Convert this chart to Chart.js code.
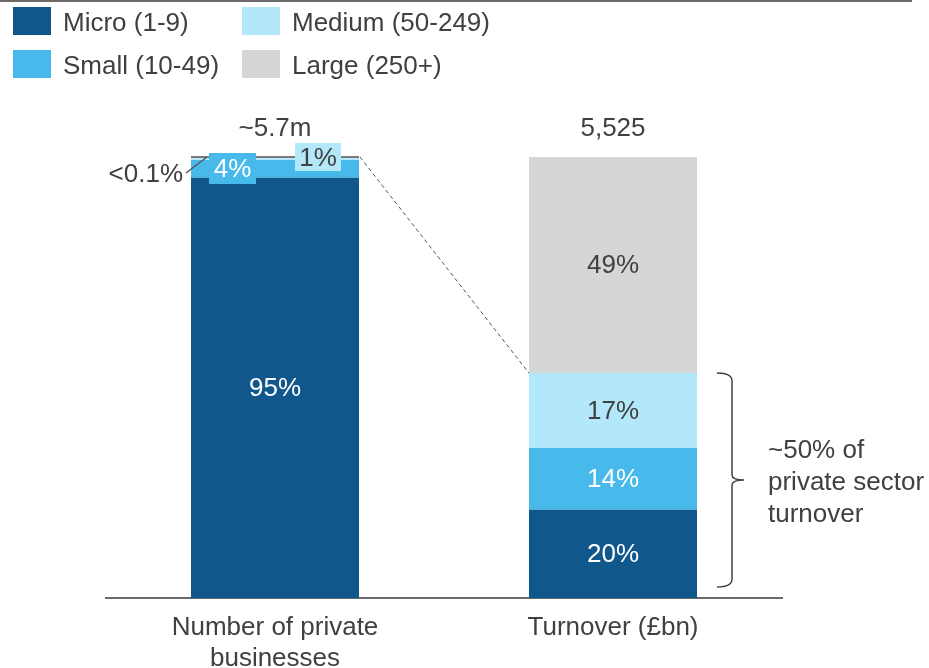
<!DOCTYPE html>
<html lang="en">
<head>
<meta charset="UTF-8">
<title>Private businesses and turnover by size</title>
<style>
  body { margin: 0; background: #fff; }
  canvas { display: block; }
</style>
</head>
<body>
<canvas id="chart" width="929" height="668"></canvas>
<script src="https://cdn.jsdelivr.net/npm/chart.js"></script>
<script>
// data (shares in %)
const categories = [['Number of private', 'businesses'], 'Turnover (£bn)'];
const seriesNames = ['Micro (1-9)', 'Small (10-49)', 'Medium (50-249)', 'Large (250+)'];
const micro = [95.3, 20];
const small = [4.0, 14];
const medium = [0.6, 17];
const large = [0.1, 49];
const microLabels = ['95%', '20%'];
const smallLabels = ['4%', '14%'];
const mediumLabels = ['1%', '17%'];
const largeLabels = ['<0.1%', '49%'];
const totals = ['~5.7m', '5,525'];
const bracketNote = ['~50% of', 'private sector', 'turnover'];

const colors = ['#10578B', '#47B9EA', '#B3E8FA', '#D5D6D8'];
const textColors = ['#ffffff', '#ffffff', '#404040', '#404040'];
const ink = '#404040';
const font = '26px "Liberation Sans", Arial, sans-serif';

const allValues = [micro, small, medium, large];
const allLabels = [microLabels, smallLabels, mediumLabels, largeLabels];

// labels, leader lines, bracket and legend
const annotate = {
  id: 'annotate',
  afterDatasetsDraw(chart) {
    const ctx = chart.ctx;
    const metas = allValues.map((v, i) => chart.getDatasetMeta(i));
    ctx.save();
    ctx.font = font;
    ctx.textAlign = 'center';
    ctx.textBaseline = 'middle';

    // labels inside the segments of the right bar and the big one on the left
    for (let d = 0; d < 4; d++) {
      metas[d].data.forEach((el, i) => {
        if (i === 0 && d > 0) return;
        ctx.fillStyle = textColors[d];
        ctx.fillText(allLabels[d][i], el.x, (el.y + el.base) / 2 + 1);
      });
    }

    const left = metas[0].data[0];
    const lx = left.x - left.width / 2;
    const rx = left.x + left.width / 2;
    const topY = metas[3].data[0].y;

    // large share: a line across the top with a leader to its label
    ctx.strokeStyle = '#555';
    ctx.lineWidth = 1.5;
    ctx.beginPath();
    ctx.moveTo(lx, topY);
    ctx.lineTo(rx, topY);
    ctx.moveTo(lx - 5, topY + 16);
    ctx.lineTo(lx + 16, topY);
    ctx.stroke();
    ctx.fillStyle = ink;
    ctx.textAlign = 'right';
    ctx.fillText(largeLabels[0], lx - 8, topY + 18);
    ctx.textAlign = 'center';

    // the thin segments of the left bar get boxed labels
    ctx.fillStyle = colors[1];
    ctx.fillRect(lx + 18, topY - 4, 47, 31);
    ctx.fillStyle = textColors[1];
    ctx.fillText(smallLabels[0], lx + 41.5, topY + 13);

    ctx.fillStyle = colors[2];
    ctx.fillRect(lx + 104, topY - 14, 46, 28);
    ctx.fillStyle = textColors[2];
    ctx.fillText(mediumLabels[0], lx + 127, topY + 2);

    // totals above the bars
    metas[3].data.forEach((el, i) => {
      ctx.fillStyle = ink;
      ctx.fillText(totals[i], el.x, el.y - 28);
    });

    // dashed connector
    const right = metas[2].data[1];
    const rl = right.x - right.width / 2;
    const rr = right.x + right.width / 2;
    ctx.strokeStyle = '#555';
    ctx.lineWidth = 1;
    ctx.setLineDash([4, 3]);
    ctx.beginPath();
    ctx.moveTo(rx + 1, topY);
    ctx.lineTo(rl, right.y);
    ctx.stroke();
    ctx.setLineDash([]);

    // curly bracket over micro + small + medium
    const bTop = right.y;
    const bBot = metas[0].data[1].base - 11;
    const bMid = (bTop + bBot) / 2;
    const vx = rr + 35;
    ctx.strokeStyle = '#404040';
    ctx.lineWidth = 1.5;
    ctx.beginPath();
    ctx.moveTo(rr + 20, bTop);
    ctx.quadraticCurveTo(vx, bTop, vx, bTop + 8);
    ctx.lineTo(vx, bMid - 5);
    ctx.quadraticCurveTo(vx, bMid, vx + 12, bMid);
    ctx.moveTo(vx + 12, bMid);
    ctx.quadraticCurveTo(vx, bMid, vx, bMid + 5);
    ctx.lineTo(vx, bBot - 8);
    ctx.quadraticCurveTo(vx, bBot, rr + 20, bBot);
    ctx.stroke();

    ctx.fillStyle = ink;
    ctx.textAlign = 'left';
    bracketNote.forEach((t, k) => {
      ctx.fillText(t, rr + 71, bMid + 3 + (k - 1) * 32);
    });
    ctx.restore();
  },
  afterDraw(chart) {
    const ctx = chart.ctx;
    ctx.save();
    // rule along the top
    ctx.strokeStyle = '#6b6b6b';
    ctx.lineWidth = 2;
    ctx.beginPath();
    ctx.moveTo(0, 1);
    ctx.lineTo(912, 1);
    ctx.stroke();
    // legend, two columns
    ctx.font = font;
    ctx.textBaseline = 'middle';
    ctx.textAlign = 'left';
    seriesNames.forEach((name, i) => {
      const x = i < 2 ? 13 : 242;
      const y = i % 2 === 0 ? 7 : 50;
      ctx.fillStyle = colors[i];
      ctx.fillRect(x, y, 38, 28);
      ctx.fillStyle = ink;
      ctx.fillText(name, x + 50, y + 17);
    });
    ctx.restore();
  }
};

new Chart(document.getElementById('chart'), {
  type: 'bar',
  data: {
    labels: categories,
    datasets: seriesNames.map((name, i) => ({
      label: name,
      data: allValues[i],
      backgroundColor: colors[i],
      borderWidth: 0,
      categoryPercentage: 1,
      barPercentage: 168 / 338
    }))
  },
  options: {
    responsive: false,
    animation: false,
    layout: { padding: { left: 106, right: 147, top: 157, bottom: 0 } },
    plugins: { legend: { display: false }, tooltip: { enabled: false } },
    scales: {
      x: {
        stacked: true,
        grid: { display: false, drawTicks: false },
        border: { display: true, color: '#6b6b6b', width: 2 },
        ticks: {
          color: ink,
          padding: 14,
          font: { family: '"Liberation Sans", Arial, sans-serif', size: 26, lineHeight: 1.2 }
        },
        afterFit(scale) { scale.height = 70; }
      },
      y: {
        stacked: true,
        display: false,
        min: 0,
        max: 100
      }
    }
  },
  plugins: [annotate]
});
</script>
</body>
</html>
